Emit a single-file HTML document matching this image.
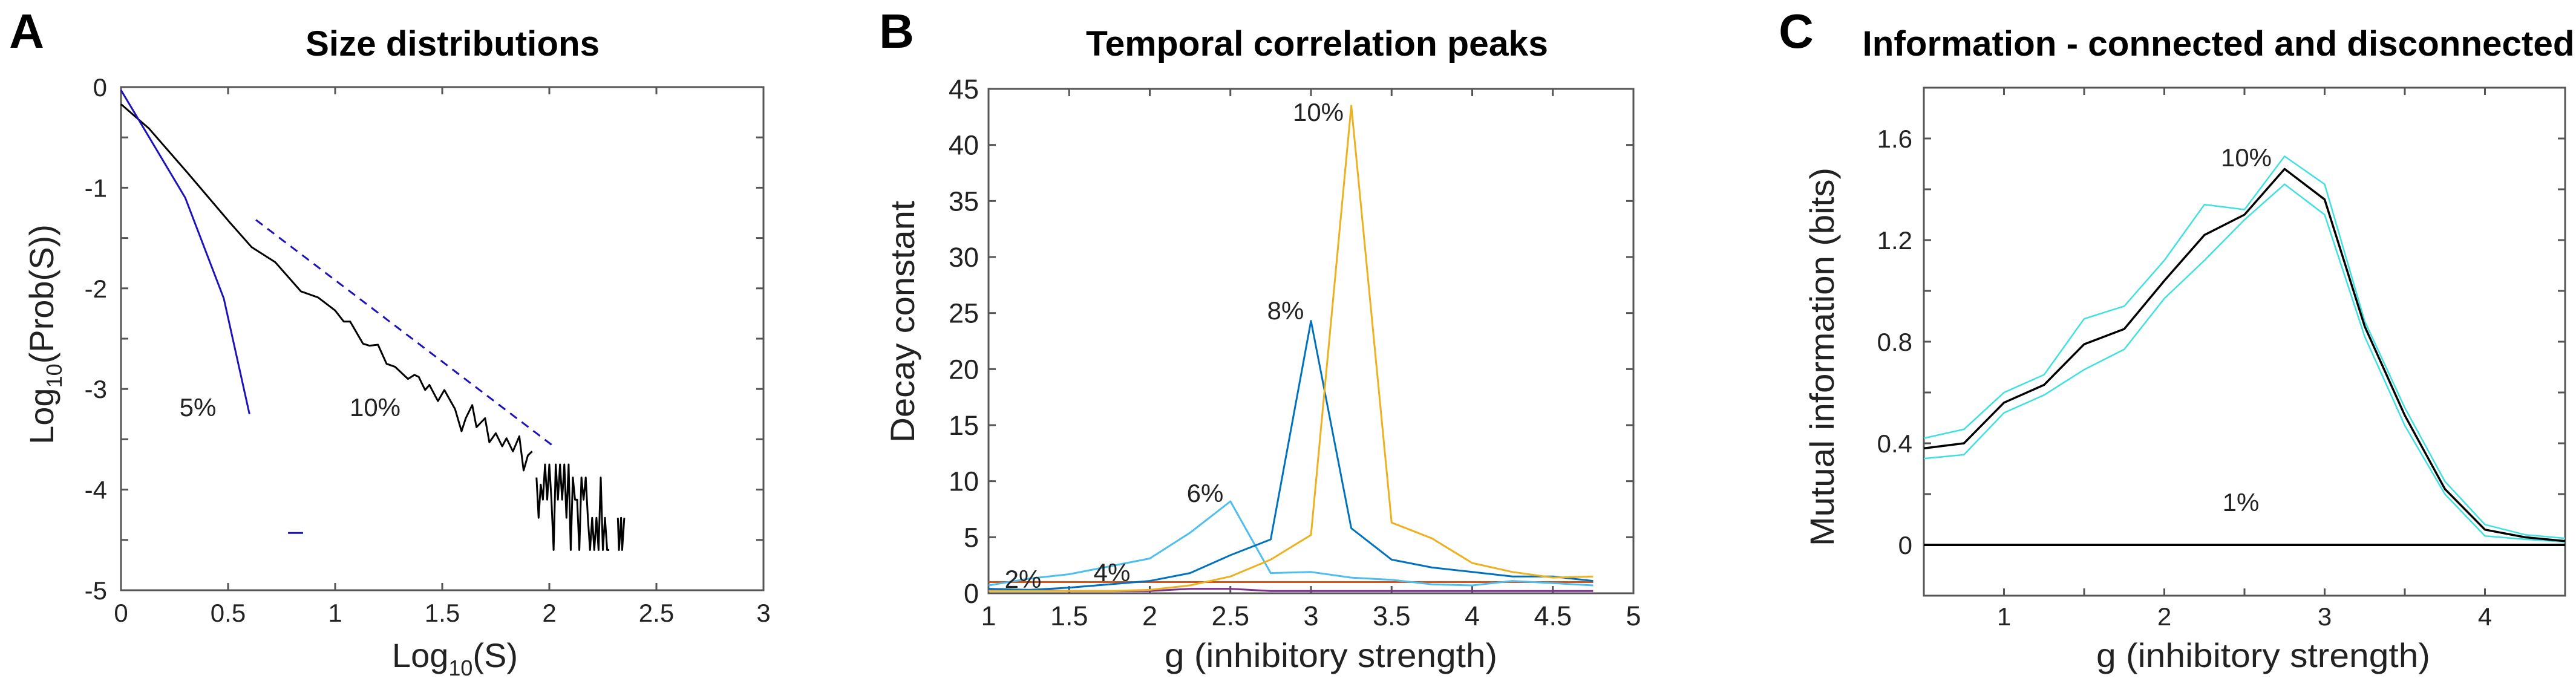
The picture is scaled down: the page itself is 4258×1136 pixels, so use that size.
<!DOCTYPE html>
<html><head><meta charset="utf-8"><style>
html,body{margin:0;padding:0;background:#fff;}
svg{display:block;font-family:"Liberation Sans",Arial,sans-serif;}
</style></head><body>
<svg id="fig" width="4258" height="1136" viewBox="0 0 4258 1136" xmlns="http://www.w3.org/2000/svg">
<rect width="4258" height="1136" fill="#fff"/>
<g id="layer"></g>
</svg>
<script>
// ---------- Panel A data ----------
const aFitX = [0.63, 2.02];
const aFitY = [-1.32, -3.57];
const a5X = [0, 0.3, 0.48, 0.6];
const a5Y = [-0.03, -1.1, -2.1, -3.25];
const a5DashX = [0.78, 0.85];
const a5DashY = [-4.43, -4.43];
const a10X = [0,0.13,0.31,0.51,0.61,0.72,0.84,0.92,1.0,1.04,1.07,1.13,1.16,1.20,1.24,1.28,1.34,1.37,1.39,1.42,1.44,1.48,1.51,1.56,1.59,1.61,1.64,1.66,1.70,1.72,1.75,1.78,1.80,1.83,1.86,1.88,1.90,1.92,
 1.93,1.94,1.95,1.96,1.97,1.98,1.99,2.0,2.01,2.02,2.03,2.04,2.05,2.06,2.07,2.08,2.09,2.10,2.11,2.12,2.13,2.14,2.15,2.16,2.17,2.18,2.19,2.20,2.21,2.22,2.23,2.24,2.25,2.26,2.27,2.28,
 2.30,2.32,2.325,2.335,2.34,2.35];
const a10Y = [-0.17,-0.41,-0.85,-1.35,-1.59,-1.74,-2.03,-2.09,-2.22,-2.33,-2.33,-2.55,-2.57,-2.56,-2.75,-2.78,-2.90,-2.86,-2.88,-3.01,-2.96,-3.12,-3.01,-3.20,-3.42,-3.29,-3.16,-3.38,-3.29,-3.53,-3.44,-3.57,-3.49,-3.62,-3.47,-3.81,-3.66,-3.62,
 null,-3.88,-4.28,-3.95,-4.1,-3.75,-4.1,-3.75,-4.1,-4.6,-3.75,-4.1,-3.75,-4.1,-3.75,-4.28,-3.75,-4.6,-3.88,-4.1,-4.1,-4.6,-3.88,-4.1,-3.88,-4.28,-4.6,-4.28,-4.6,-4.28,-4.6,-3.88,-4.6,-4.28,-4.6,-4.6,
 null,-4.28,-4.6,-4.28,-4.6,-4.28];
const aXTicks = [0,0.5,1,1.5,2,2.5,3];
const aXLabels = ["0","0.5","1","1.5","2","2.5","3"];
const aYTicks = [0,-0.5,-1,-1.5,-2,-2.5,-3,-3.5,-4,-4.5,-5];
const aYLabelVals = [0,-1,-2,-3,-4,-5];
const aYLabels = ["0","-1","-2","-3","-4","-5"];

// ---------- Panel B data ----------
const bG = [1,1.25,1.5,1.75,2,2.25,2.5,2.75,3,3.25,3.5,3.75,4,4.25,4.5,4.75];
const b10 = [0.2,0.2,0.2,0.2,0.3,0.7,1.5,3.0,5.2,43.5,6.3,4.9,2.7,1.9,1.4,1.5];
const b8  = [0.4,0.3,0.5,0.8,1.1,1.8,3.4,4.8,24.3,5.8,3.0,2.3,1.9,1.5,1.5,1.1];
const b6  = [0.7,1.3,1.7,2.4,3.1,5.4,8.2,1.8,1.9,1.4,1.2,0.8,0.7,1.1,0.9,0.7];
const b4  = [1.0,1.0,1.0,1.0,1.0,1.0,1.0,1.0,1.0,1.0,1.0,1.0,1.0,1.0,1.0,1.0];
const b2  = [0.3,0.3,0.2,0.2,0.2,0.4,0.4,0.2,0.2,0.2,0.2,0.2,0.2,0.2,0.2,0.2];
const bXTicks = [1,1.5,2,2.5,3,3.5,4,4.5,5];
const bXLabels = ["1","1.5","2","2.5","3","3.5","4","4.5","5"];
const bYTicks = [0,5,10,15,20,25,30,35,40,45];
const bYLabels = ["0","5","10","15","20","25","30","35","40","45"];

// ---------- Panel C data ----------
const cG = [0.5,0.75,1,1.25,1.5,1.75,2,2.25,2.5,2.75,3,3.25,3.5,3.75,4,4.25,4.5];
const cMean = [0.38,0.40,0.56,0.63,0.79,0.85,1.04,1.22,1.30,1.48,1.36,0.86,0.51,0.22,0.06,0.03,0.015];
const cUpper = [0.42,0.455,0.60,0.67,0.89,0.94,1.12,1.34,1.32,1.53,1.42,0.88,0.54,0.25,0.08,0.04,0.026];
const cLower = [0.34,0.355,0.52,0.59,0.69,0.77,0.97,1.12,1.28,1.42,1.30,0.82,0.47,0.20,0.035,0.022,0.012];
const cDisc = [0,0];
const cDiscX = [0.5,4.5];
const cXTicks = [0.5,1,1.5,2,2.5,3,3.5,4,4.5];
const cXLabelVals = [1,2,3,4];
const cXLabels = ["1","2","3","4"];
const cYTicks = [-0.2,0,0.2,0.4,0.6,0.8,1.0,1.2,1.4,1.6,1.8];
const cYLabelVals = [0,0.4,0.8,1.2,1.6];
const cYLabels = ["0","0.4","0.8","1.2","1.6"];

const NS = "http://www.w3.org/2000/svg";
const layer = document.getElementById('layer');
function mk(tag, attrs, parent){
  const e = document.createElementNS(NS, tag);
  for (const k in attrs) e.setAttribute(k, attrs[k]);
  (parent||layer).appendChild(e);
  return e;
}
function scale(d0,d1,r0,r1){ return v => r0 + (v-d0)*(r1-r0)/(d1-d0); }
function pathD(xs, ys, sx, sy){
  let d = "", pen = false;
  for (let i=0;i<xs.length;i++){
    if (ys[i]===null || ys[i]===undefined){ pen=false; continue; }
    d += (pen?"L":"M") + sx(xs[i]).toFixed(1) + "," + sy(ys[i]).toFixed(1);
    pen = true;
  }
  return d;
}
function line(g, xs, ys, sx, sy, color, w, name, dash){
  const p = mk('path', {d: pathD(xs,ys,sx,sy), fill:'none', stroke:color, 'stroke-width':w, 'stroke-linejoin':'round'}, g);
  if (dash) p.setAttribute('stroke-dasharray', dash);
  
  
  return p;
}
function text(g, x, y, str, size, anchor, name, extra){
  const t = mk('text', Object.assign({x:x, y:y, 'font-size':size, 'text-anchor':anchor||'middle', fill:'#222'}, extra||{}), g);
  t.textContent = str;
  
  
  return t;
}
function frame(g, L, T, R, B, sx, sy, xT, yT, name){
  const fr = mk('rect', {x:L, y:T, width:R-L, height:B-T, fill:'none', stroke:'#555', 'stroke-width':3}, g);
  
  
  const tl = 12;
  xT.forEach(v => {
    const x = sx(v);
    const t1 = mk('line', {x1:x, x2:x, y1:B, y2:B-tl, stroke:'#555','stroke-width':3}, g);
    
    
    const t2 = mk('line', {x1:x, x2:x, y1:T, y2:T+tl, stroke:'#555','stroke-width':3}, g);
    
    
  });
  yT.forEach(v => {
    const y = sy(v);
    const t1 = mk('line', {x1:L, x2:L+tl, y1:y, y2:y, stroke:'#555','stroke-width':3}, g);
    
    
    const t2 = mk('line', {x1:R, x2:R-tl, y1:y, y2:y, stroke:'#555','stroke-width':3}, g);
    
    
  });
}
function group(name){
  const g = mk('g', {});
  
  
  return g;
}

// ================= Panel A =================
(function(){
  const g = group('panel-a-size-distributions');
  const L=200,R=1262,T=144,B=976;
  const sx = scale(0,3,L,R), sy = scale(0,-5,T,B);
  text(g, 44, 79, "A", 80, 'middle', 'panel-letter-a', {'font-weight':'bold', fill:'#000'});
  text(g, 748, 92, "Size distributions", 58, 'middle', 'title-a', {'font-weight':'bold', fill:'#000', textLength:486, lengthAdjust:'spacingAndGlyphs'});
  frame(g, L,T,R,B, sx, sy, aXTicks, aYTicks, 'panel-a');
  aXTicks.forEach((v,i)=> text(g, sx(v), 1028, aXLabels[i], 42, 'middle', 'x-tick-label-a'));
  aYLabelVals.forEach((v,i)=> text(g, 177, sy(v)+15, aYLabels[i], 42, 'end', 'y-tick-label-a'));
  const xl = text(g, 752, 1103, "", 56, 'middle', 'x-axis-title-a');
  xl.innerHTML = 'Log<tspan font-size="36" dy="14">10</tspan><tspan dy="-14">(S)</tspan>';
  const yl = text(g, 0, 0, "", 56, 'middle', 'y-axis-title-a', {transform:'translate(88,553) rotate(-90)'});
  yl.innerHTML = 'Log<tspan font-size="36" dy="14">10</tspan><tspan dy="-14">(Prob(S))</tspan>';
  line(g, a10X, a10Y, sx, sy, '#000', 3, 'series-10-percent');
  line(g, a5X, a5Y, sx, sy, '#1c12b8', 3, 'series-5-percent');
  line(g, a5DashX, a5DashY, sx, sy, '#1c12b8', 3, 'series-5-percent-fragment');
  line(g, aFitX, aFitY, sx, sy, '#1c12b8', 3, 'power-law-fit-dashed', '14,10');
  text(g, 327, 688, "5%", 42, 'middle', 'label-5-percent');
  text(g, 620, 688, "10%", 42, 'middle', 'label-10-percent');
})();

// ================= Panel B =================
(function(){
  const g = group('panel-b-temporal-correlation');
  const L=1634,R=2700,T=147,B=981;
  const sx = scale(1,5,L,R), sy = scale(0,45,B,T);
  text(g, 1482, 79, "B", 80, 'middle', 'panel-letter-b', {'font-weight':'bold', fill:'#000'});
  text(g, 2177, 92, "Temporal correlation peaks", 58, 'middle', 'title-b', {'font-weight':'bold', fill:'#000', textLength:764, lengthAdjust:'spacingAndGlyphs'});
  frame(g, L,T,R,B, sx, sy, bXTicks, bYTicks, 'panel-b');
  bXTicks.forEach((v,i)=> text(g, sx(v), 1034, bXLabels[i], 45, 'middle', 'x-tick-label-b'));
  bYTicks.forEach((v,i)=> text(g, 1618, sy(v)+16, bYLabels[i], 45, 'end', 'y-tick-label-b'));
  text(g, 2200, 1103, "g (inhibitory strength)", 56, 'middle', 'x-axis-title-b', {textLength:550, lengthAdjust:'spacingAndGlyphs'});
  text(g, 0, 0, "Decay constant", 56, 'middle', 'y-axis-title-b', {transform:'translate(1511,532) rotate(-90)', textLength:400, lengthAdjust:'spacingAndGlyphs'});
  line(g, bG, b2, sx, sy, '#7E2F8E', 3, 'series-2-percent');
  line(g, bG, b4, sx, sy, '#D95319', 3, 'series-4-percent');
  line(g, bG, b6, sx, sy, '#4DBEEE', 3, 'series-6-percent');
  line(g, bG, b8, sx, sy, '#0072BD', 3, 'series-8-percent');
  line(g, bG, b10, sx, sy, '#EDB120', 3, 'series-10-percent');
  text(g, 1691, 972, "2%", 42, 'middle', 'label-2-percent');
  text(g, 1838, 961, "4%", 42, 'middle', 'label-4-percent');
  text(g, 1992, 830, "6%", 42, 'middle', 'label-6-percent');
  text(g, 2125, 528, "8%", 42, 'middle', 'label-8-percent');
  text(g, 2179, 200, "10%", 42, 'middle', 'label-10-percent');
})();

// ================= Panel C =================
(function(){
  const g = group('panel-c-information');
  const L=3180,R=4240,T=145,B=985;
  const sx = scale(0.5,4.5,L,R), sy = scale(-0.2,1.8,B,T);
  text(g, 2969, 79, "C", 80, 'middle', 'panel-letter-c', {'font-weight':'bold', fill:'#000'});
  text(g, 3667, 92, "Information - connected and disconnected", 58, 'middle', 'title-c', {'font-weight':'bold', fill:'#000', textLength:1177, lengthAdjust:'spacingAndGlyphs'});
  frame(g, L,T,R,B, sx, sy, cXTicks, cYTicks, 'panel-c');
  cXLabelVals.forEach((v,i)=> text(g, sx(v), 1034, cXLabels[i], 42, 'middle', 'x-tick-label-c'));
  cYLabelVals.forEach((v,i)=> text(g, 3161, sy(v)+15, cYLabels[i], 42, 'end', 'y-tick-label-c'));
  text(g, 3741, 1103, "g (inhibitory strength)", 56, 'middle', 'x-axis-title-c', {textLength:552, lengthAdjust:'spacingAndGlyphs'});
  text(g, 0, 0, "Mutual information (bits)", 56, 'middle', 'y-axis-title-c', {transform:'translate(3031,590) rotate(-90)', textLength:626, lengthAdjust:'spacingAndGlyphs'});
  line(g, cDiscX, cDisc, sx, sy, '#000', 4, 'series-1-percent-disconnected');
  line(g, cG, cUpper, sx, sy, '#3fe0e0', 2.5, 'upper-bound-10-percent');
  line(g, cG, cLower, sx, sy, '#3fe0e0', 2.5, 'lower-bound-10-percent');
  line(g, cG, cMean, sx, sy, '#000', 3.5, 'series-10-percent');
  text(g, 3713, 275, "10%", 42, 'middle', 'label-10-percent');
  text(g, 3704, 845, "1%", 42, 'middle', 'label-1-percent');
})();
</script>
</body></html>
